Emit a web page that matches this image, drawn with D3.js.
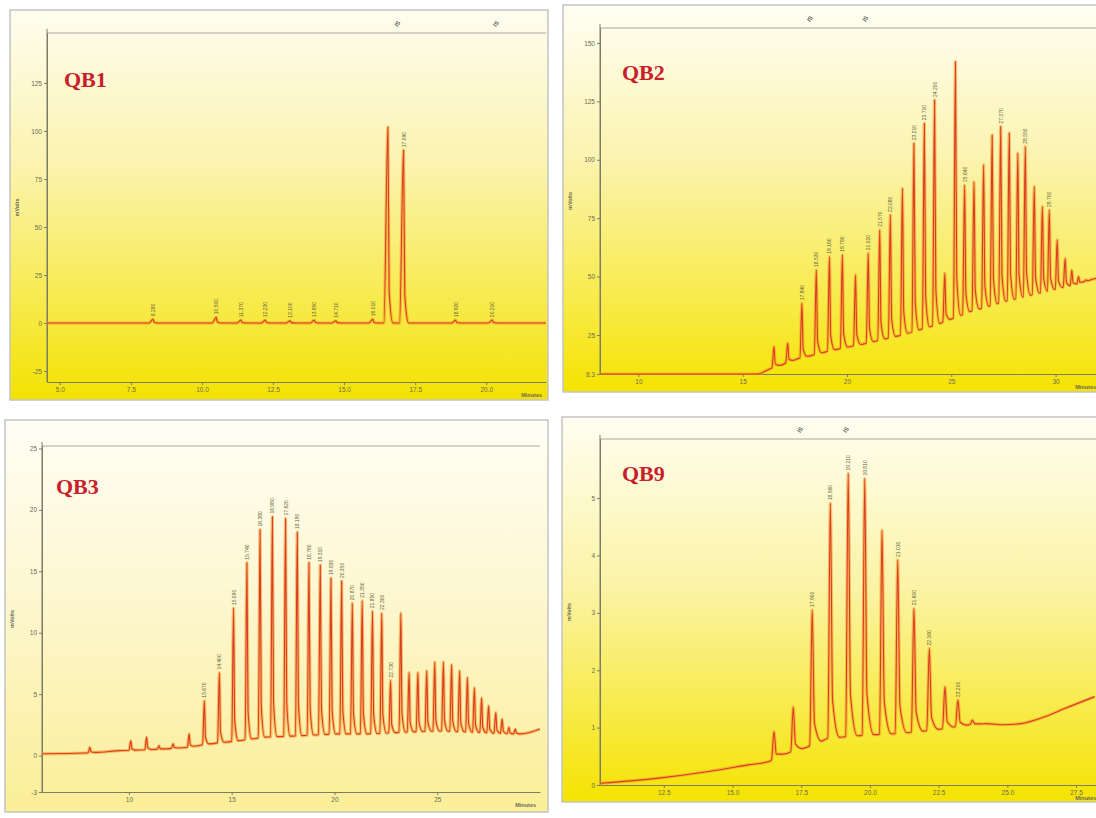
<!DOCTYPE html>
<html>
<head>
<meta charset="utf-8">
<script src="https://cdn.jsdelivr.net/npm/d3@7"></script>
<style>
  body { margin: 0; background: #fff; }
  svg { display: block; }
</style>
</head>
<body>
<div id="chart"></div>
<script>
// ---------- data ----------
// QB1
const qb1PeakTimes   = [8.28, 10.50, 11.37, 12.23, 13.10, 13.95, 14.71, 16.01, 16.54, 17.09, 18.92, 20.21];
const qb1PeakHeights = [2.0, 3.0, 1.5, 1.5, 1.2, 1.5, 1.2, 2.0, 102, 90, 1.5, 1.5];
const qb1PeakLabels  = [1, 1, 1, 1, 1, 1, 1, 1, 0, 1, 1, 1];
const qb1BaseTimes   = [4.55, 22.1];
const qb1BaseLevels  = [0, 0];
const qb1MarkTimes   = [16.93, 20.40];
const qb1XTicks  = [5, 7.5, 10, 12.5, 15, 17.5, 20];
const qb1XLabels = ["5.0", "7.5", "10.0", "12.5", "15.0", "17.5", "20.0"];
const qb1YTicks  = [-25, 0, 25, 50, 75, 100, 125];
const qb1YLabels = ["-25", "0", "25", "50", "75", "100", "125"];

// QB2
const qb2PeakTimes   = [16.50, 17.16, 17.84, 18.53, 19.16, 19.78, 20.41, 21.02, 21.57, 22.08, 22.66, 23.21, 23.71, 24.20,
                        24.69, 25.20, 25.64, 26.09, 26.55, 26.96, 27.37, 27.78, 28.19, 28.55, 28.98, 29.37, 29.70,
                        30.08, 30.46, 30.78, 31.10, 31.47];
const qb2PeakHeights = [20.0, 21.5, 38.6, 52.8, 58.5, 59.3, 50.7, 60.0, 70.0, 76.4, 87.8, 107.1, 115.6, 125.6,
                        51.4, 142.0, 89.2, 90.6, 97.8, 110.6, 114.2, 111.4, 102.8, 105.6, 88.5, 80.0, 78.5,
                        65.7, 57.8, 52.8, 50.0, 48.6];
const qb2PeakLabels  = [0, 0, 1, 1, 1, 1, 0, 1, 1, 1, 0, 1, 1, 1,
                        0, 0, 1, 0, 0, 0, 1, 0, 0, 1, 0, 0, 1,
                        0, 0, 0, 0, 0];
const qb2BaseTimes   = [8.16, 15.7, 16.37, 17.68, 19.32, 20.96, 22.61, 24.25, 25.89, 27.53, 29.18, 30.82, 31.94];
const qb2BaseLevels  = [8.3, 8.3, 10.8, 15.0, 18.6, 21.5, 25.0, 29.3, 35.0, 39.3, 42.9, 46.4, 49.3];
const qb2MarkTimes   = [18.30, 20.96];
const qb2XTicks  = [10, 15, 20, 25, 30];
const qb2XLabels = ["10", "15", "20", "25", "30"];
const qb2YTicks  = [8.3, 25, 50, 75, 100, 125, 150];
const qb2YLabels = ["8.3", "25", "50", "75", "100", "125", "150"];

// QB3
const qb3PeakTimes   = [8.10, 10.09, 10.86, 11.46, 12.15, 12.93, 13.67, 14.40, 15.09, 15.74, 16.38, 16.98, 17.62,
                        18.19, 18.76, 19.31, 19.83, 20.35, 20.87, 21.35, 21.85, 22.30, 22.73, 23.23, 23.63, 24.06,
                        24.49, 24.88, 25.30, 25.70, 26.09, 26.47, 26.81, 27.16, 27.50, 27.85, 28.16, 28.49, 28.80];
const qb3PeakHeights = [0.67, 1.2, 1.5, 0.8, 0.95, 1.76, 4.46, 6.75, 12.0, 15.7, 18.4, 19.45, 19.3,
                        18.2, 15.7, 15.5, 14.45, 14.2, 12.4, 12.6, 11.75, 11.6, 6.1, 11.6, 6.75, 6.75,
                        6.9, 7.6, 7.6, 7.4, 6.9, 6.35, 5.5, 4.7, 4.05, 3.5, 2.97, 2.3, 2.16];
const qb3PeakLabels  = [0, 0, 0, 0, 0, 0, 1, 1, 1, 1, 1, 1, 1,
                        1, 1, 1, 1, 1, 1, 1, 1, 1, 1, 0, 0, 0,
                        0, 0, 0, 0, 0, 0, 0, 0, 0, 0, 0, 0, 0];
const qb3BaseTimes   = [5.77, 7.84, 9.57, 11.29, 12.85, 13.88, 15.26, 16.64, 18.19, 19.92, 21.64, 23.37, 25.09,
                        26.81, 28.53, 29.06, 30.0];
const qb3BaseLevels  = [0.14, 0.2, 0.4, 0.5, 0.67, 0.95, 1.2, 1.5, 1.6, 1.76, 1.76, 1.9, 2.0,
                        1.9, 1.76, 1.76, 2.16];
const qb3MarkTimes   = [];
const qb3XTicks  = [10, 15, 20, 25];
const qb3XLabels = ["10", "15", "20", "25"];
const qb3YTicks  = [-2.97, 0, 5, 10, 15, 20, 25];
const qb3YLabels = ["-3", "0", "5", "10", "15", "20", "25"];

// QB9
const qb9PeakTimes   = [16.51, 17.21, 17.90, 18.56, 19.21, 19.81, 20.44, 21.01, 21.60, 22.16, 22.73, 23.20, 23.73];
const qb9PeakHeights = [0.93, 1.36, 3.05, 4.91, 5.43, 5.34, 4.44, 3.92, 3.08, 2.38, 1.71, 1.48, 1.13];
const qb9PeakLabels  = [0, 0, 1, 1, 1, 1, 0, 1, 1, 1, 0, 1, 0];
const qb9BaseTimes   = [10.18, 12.31, 14.19, 15.57, 16.33, 16.70, 17.58, 18.46, 19.09, 19.84, 21.10, 22.35, 23.61,
                        24.23, 24.86, 25.49, 26.36, 27.12, 28.18];
const qb9BaseLevels  = [0.03, 0.12, 0.24, 0.35, 0.41, 0.52, 0.64, 0.81, 0.84, 0.87, 0.90, 0.96, 1.05,
                        1.07, 1.05, 1.07, 1.19, 1.34, 1.54];
const qb9MarkTimes   = [17.52, 19.19];
const qb9XTicks  = [12.5, 15, 17.5, 20, 22.5, 25, 27.5];
const qb9XLabels = ["12.5", "15.0", "17.5", "20.0", "22.5", "25.0", "27.5"];
const qb9YTicks  = [0, 1, 2, 3, 4, 5];
const qb9YLabels = ["0", "1", "2", "3", "4", "5"];

// ---------- layout ----------
const W = 1096, H = 818;

const panels = [
  { title: "QB1", frame: [10, 10, 538, 390], plot: { left: 47, top: 33, right: 546, bottom: 382 },
    xDomain: [4.55, 22.1], yDomain: [-30.7, 151], titlePos: [64, 87], peakW: [4, 5],
    stops: [[0, "#fefdf0"], [0.4, "#fbf3ae"], [0.75, "#f7ea4c"], [1, "#f3e200"]],
    peakTimes: qb1PeakTimes, peakHeights: qb1PeakHeights, peakLabels: qb1PeakLabels,
    baseTimes: qb1BaseTimes, baseLevels: qb1BaseLevels, markTimes: qb1MarkTimes,
    xTicks: qb1XTicks, xLabels: qb1XLabels, yTicks: qb1YTicks, yLabels: qb1YLabels },
  { title: "QB2", frame: [563, 5, 545, 387], plot: { left: 600, top: 28, right: 1100, bottom: 374 },
    xDomain: [8.16, 32.13], yDomain: [8.3, 156.4], titlePos: [622, 80], peakW: [2, 5],
    stops: [[0, "#fffef4"], [0.4, "#fbf3ae"], [0.75, "#f8eb4e"], [1, "#f5e300"]],
    peakTimes: qb2PeakTimes, peakHeights: qb2PeakHeights, peakLabels: qb2PeakLabels,
    baseTimes: qb2BaseTimes, baseLevels: qb2BaseLevels, markTimes: qb2MarkTimes,
    xTicks: qb2XTicks, xLabels: qb2XLabels, yTicks: qb2YTicks, yLabels: qb2YLabels },
  { title: "QB3", frame: [5, 420, 543, 392], plot: { left: 42, top: 446, right: 540, bottom: 792 },
    xDomain: [5.77, 30.0], yDomain: [-2.97, 25.2], titlePos: [56, 494], peakW: [1.8, 4.5],
    stops: [[0, "#fffef5"], [0.5, "#fdf6cc"], [1, "#fbee96"]],
    peakTimes: qb3PeakTimes, peakHeights: qb3PeakHeights, peakLabels: qb3PeakLabels,
    baseTimes: qb3BaseTimes, baseLevels: qb3BaseLevels, markTimes: qb3MarkTimes,
    xTicks: qb3XTicks, xLabels: qb3XLabels, yTicks: qb3YTicks, yLabels: qb3YLabels },
  { title: "QB9", frame: [562, 417, 545, 385], plot: { left: 600, top: 439, right: 1100, bottom: 785 },
    xDomain: [10.18, 28.37], yDomain: [0, 6.03], titlePos: [622, 481], peakW: [2.5, 9],
    stops: [[0, "#fffef2"], [0.45, "#fbf3a4"], [0.75, "#f8eb4c"], [1, "#f5e300"]],
    peakTimes: qb9PeakTimes, peakHeights: qb9PeakHeights, peakLabels: qb9PeakLabels,
    baseTimes: qb9BaseTimes, baseLevels: qb9BaseLevels, markTimes: qb9MarkTimes,
    xTicks: qb9XTicks, xLabels: qb9XLabels, yTicks: qb9YTicks, yLabels: qb9YLabels }
];

const svg = d3.select("#chart").append("svg")
  .attr("width", W)
  .attr("height", H)
  .style("font-family", "Liberation Sans, Arial, sans-serif");

svg.append("rect").attr("width", W).attr("height", H).attr("fill", "#fff");
const defs = svg.append("defs");

panels.forEach(function (p, pi) {
  const [fx, fy, fw, fh] = p.frame;
  const g = svg.append("g");

  // background gradient
  const grad = defs.append("linearGradient")
    .attr("id", "bg" + pi)
    .attr("x1", 0).attr("y1", 0).attr("x2", 0).attr("y2", 1);
  grad.selectAll("stop").data(p.stops).enter().append("stop")
    .attr("offset", d => d[0])
    .attr("stop-color", d => d[1]);

  g.append("rect")
    .attr("x", fx).attr("y", fy).attr("width", fw).attr("height", fh)
    .attr("fill", "url(#bg" + pi + ")")
    .attr("stroke", "#c4c4c4")
    .attr("stroke-width", 1.5);

  const x = d3.scaleLinear().domain(p.xDomain).range([p.plot.left, p.plot.right]);
  const y = d3.scaleLinear().domain(p.yDomain).range([p.plot.bottom, p.plot.top]);

  // top line of plot area
  g.append("line")
    .attr("x1", p.plot.left).attr("x2", Math.min(p.plot.right, fx + fw))
    .attr("y1", p.plot.top).attr("y2", p.plot.top)
    .attr("stroke", "#a8a8a0").attr("stroke-width", 1);

  // axes
  const yAxis = g.append("g")
    .attr("transform", "translate(" + p.plot.left + ",0)")
    .call(d3.axisLeft(y).tickValues(p.yTicks)
      .tickFormat((d, i) => p.yLabels[i]).tickSize(3).tickSizeOuter(0).tickPadding(2));
  const xAxis = g.append("g")
    .attr("transform", "translate(0," + p.plot.bottom + ")")
    .call(d3.axisBottom(x).tickValues(p.xTicks)
      .tickFormat((d, i) => p.xLabels[i]).tickSize(3).tickSizeOuter(0).tickPadding(2));
  [yAxis, xAxis].forEach(function (a) {
    a.select(".domain").attr("stroke", "#7d7d66").attr("stroke-width", 1);
    a.selectAll(".tick line").attr("stroke", "#7d7d66");
    a.selectAll(".tick text").attr("fill", "#6b6b55").style("font-size", "6.5px").style("font-family", "Liberation Sans, Arial, sans-serif");
  });
  // y axis extends to top line
  g.append("line")
    .attr("x1", p.plot.left).attr("x2", p.plot.left)
    .attr("y1", p.plot.top - 4).attr("y2", p.plot.bottom)
    .attr("stroke", "#7d7d66");

  // axis titles
  g.append("text")
    .attr("transform", "translate(" + (fx + 9) + "," + ((p.plot.top + p.plot.bottom) / 2) + ") rotate(-90)")
    .attr("text-anchor", "middle")
    .attr("fill", "#6b6b55")
    .style("font-size", "5.5px")
    .style("font-weight", "bold")
    .text("mVolts");
  g.append("text")
    .attr("x", Math.min(p.plot.right, fx + fw) - 4)
    .attr("y", p.plot.bottom + 15)
    .attr("text-anchor", "end")
    .attr("fill", "#6b6b55")
    .style("font-size", "5.5px")
    .style("font-weight", "bold")
    .text("Minutes");

  // trace: baseline knots plus a spike for every peak
  const base = d3.scaleLinear().domain(p.baseTimes).range(p.baseLevels).clamp(true);
  const k = (p.xDomain[1] - p.xDomain[0]) / (p.plot.right - p.plot.left);
  const wl = p.peakW[0] * k, wr = p.peakW[1] * k;
  const pts = [];
  p.peakTimes.forEach(function (t, i) {
    const h = p.peakHeights[i];
    const b = base(t);
    pts.push([t - wl, base(t - wl)]);
    pts.push([t, h]);
    pts.push([t + wr * 0.25, b + (h - b) * 0.16]);
    pts.push([t + wr, base(t + wr)]);
  });
  p.baseTimes.forEach(function (t, i) {
    const inside = p.peakTimes.some(pt => t > pt - wl && t < pt + wr);
    if (!inside) pts.push([t, p.baseLevels[i]]);
  });
  pts.sort((a, b) => a[0] - b[0]);

  defs.append("clipPath").attr("id", "clip" + pi)
    .append("rect")
    .attr("x", p.plot.left).attr("y", p.plot.top - 2)
    .attr("width", Math.min(p.plot.right, fx + fw) - p.plot.left)
    .attr("height", p.plot.bottom - p.plot.top + 3);

  const line = d3.line()
    .x(d => x(d[0]))
    .y(d => y(d[1]))
    .curve(d3.curveMonotoneX);

  const tr = g.append("g").attr("clip-path", "url(#clip" + pi + ")");
  tr.append("path").datum(pts)
    .attr("d", line)
    .attr("fill", "none")
    .attr("stroke", "#f29a2e")
    .attr("stroke-opacity", 0.6)
    .attr("stroke-width", 3.2)
    .attr("stroke-linejoin", "round");
  tr.append("path").datum(pts)
    .attr("d", line)
    .attr("fill", "none")
    .attr("stroke", "#dc3b24")
    .attr("stroke-width", 1.1)
    .attr("stroke-linejoin", "round");

  // peak retention time labels
  g.selectAll(".plabel")
    .data(p.peakTimes.filter((t, i) => p.peakLabels[i]))
    .enter().append("text")
    .attr("transform", function (t) {
      const i = p.peakTimes.indexOf(t);
      return "translate(" + (x(t) + 2) + "," + (y(p.peakHeights[i]) - 3) + ") rotate(-90)";
    })
    .attr("fill", "#5f5f40")
    .style("font-size", "5px")
    .text(t => d3.format(".3f")(t));

  // event marks above the plot
  g.selectAll(".mark")
    .data(p.markTimes)
    .enter().append("text")
    .attr("transform", t => "translate(" + x(t) + "," + (p.plot.top - 8) + ") rotate(-55)")
    .attr("text-anchor", "middle")
    .attr("fill", "#6e6e60")
    .style("font-size", "6px")
    .style("font-weight", "bold")
    .text("IS");

  // sample title
  g.append("text")
    .attr("x", p.titlePos[0])
    .attr("y", p.titlePos[1])
    .attr("fill", "#c8202a")
    .style("font-family", "Liberation Serif, Times New Roman, serif")
    .style("font-weight", "bold")
    .style("font-size", "22px")
    .text(p.title);
});
</script>
</body>
</html>
